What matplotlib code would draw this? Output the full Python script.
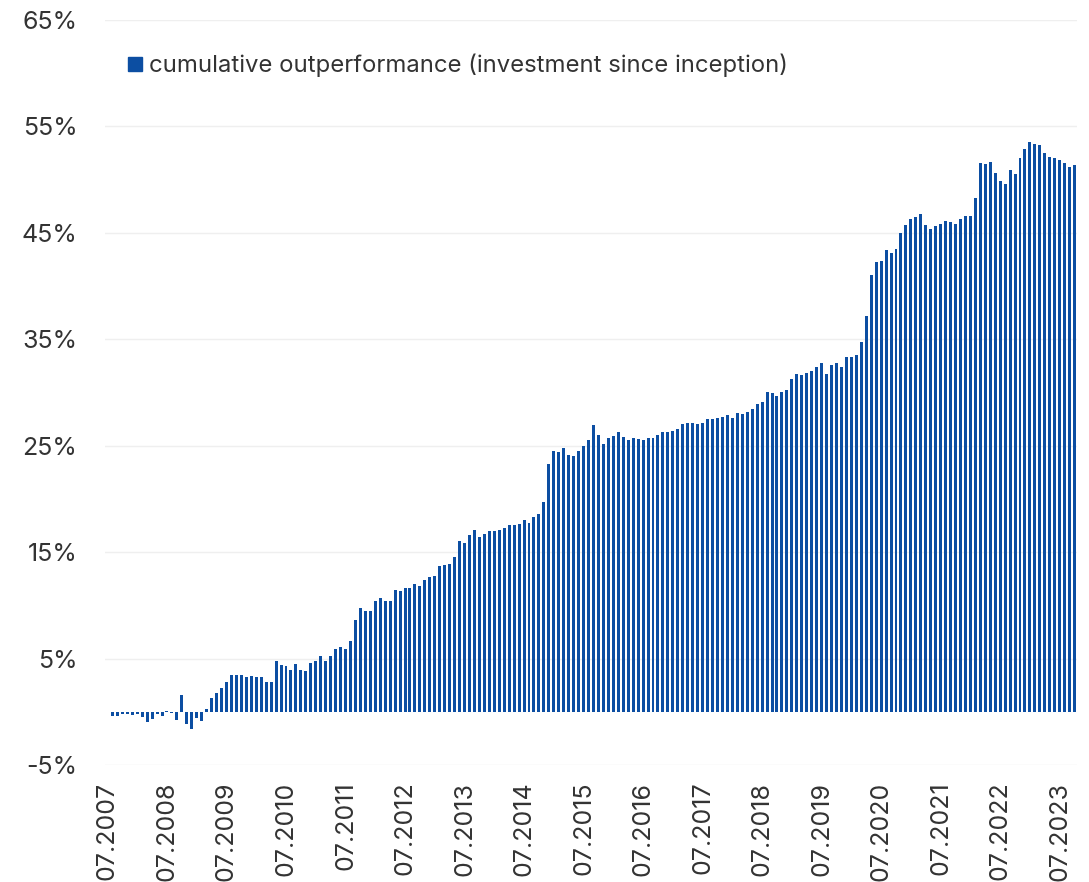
import pandas as pd
import matplotlib.pyplot as plt
from matplotlib.lines import Line2D

plt.rcParams['font.family'] = ['Inter', 'DejaVu Sans']

# monthly cumulative outperformance in %, 07.2007 - 10.2023
outperf = [
    0.00, -0.41, -0.41, -0.25, -0.25, -0.31, -0.25, -0.53, -0.97, -0.69, -0.25, -0.38,
    0.09, -0.13, -0.79, 1.54, -1.19, -1.64, -0.60, -0.88, 0.28, 1.32, 1.79, 2.26,
    2.77, 3.46, 3.46, 3.46, 3.24, 3.33, 3.30, 3.30, 2.80, 2.80, 4.78, 4.43,
    4.28, 3.96, 4.47, 3.96, 3.87, 4.56, 4.75, 5.22, 4.78, 5.28, 5.88, 6.07,
    5.94, 6.64, 8.58, 9.75, 9.43, 9.47, 10.38, 10.72, 10.38, 10.41, 11.42, 11.32,
    11.64, 11.64, 12.04, 11.85, 12.39, 12.64, 12.74, 13.69, 13.78, 13.84, 14.56, 16.03,
    15.81, 16.59, 17.06, 16.38, 16.72, 17.00, 16.97, 17.09, 17.25, 17.53, 17.53, 17.63,
    18.03, 17.75, 18.28, 18.56, 19.75, 23.32, 24.48, 24.39, 24.80, 24.14, 24.06, 24.48,
    24.97, 25.57, 26.98, 26.01, 25.19, 25.72, 25.91, 26.29, 25.82, 25.53, 25.72, 25.63,
    25.57, 25.69, 25.72, 25.97, 26.29, 26.29, 26.42, 26.60, 27.08, 27.14, 27.14, 27.08,
    27.10, 27.50, 27.54, 27.63, 27.70, 27.89, 27.61, 28.11, 27.96, 28.14, 28.49, 28.96,
    29.09, 30.00, 29.94, 29.69, 30.00, 30.28, 31.26, 31.70, 31.67, 31.82, 32.01, 32.39,
    32.74, 31.73, 32.58, 32.80, 32.39, 33.29, 33.30, 33.48, 34.73, 37.22, 41.00, 42.22,
    42.38, 43.41, 43.09, 43.44, 45.03, 45.78, 46.28, 46.50, 46.75, 45.75, 45.38, 45.69,
    45.84, 46.09, 46.03, 45.84, 46.34, 46.59, 46.56, 48.28, 51.53, 51.44, 51.69, 50.63,
    49.91, 49.59, 50.88, 50.50, 52.06, 52.91, 53.50, 53.34, 53.28, 52.53, 52.09, 52.03,
    51.81, 51.53, 51.19, 51.41,
]
months = pd.date_range('2007-07-01', periods=len(outperf), freq='MS')
y_ticks = [-5, 5, 15, 25, 35, 45, 55, 65]
legend_label = 'cumulative outperformance (investment since inception)'

bar_color = '#0c4ea2'
text_color = '#333333'

fig = plt.figure(figsize=(10.89, 8.82), dpi=100)
ax = fig.add_axes([0.0964, 0.1327, 0.8926, 0.8446])

x = list(range(len(outperf)))
ax.bar(x, outperf, width=0.6, color=bar_color, zorder=3)

# yearly ticks in July
tick_pos = [i for i, m in enumerate(months) if m.month == 7]
ax.set_xticks(tick_pos)
ax.set_xticklabels([months[i].strftime('%m.%Y') for i in tick_pos], rotation=90)
ax.set_xlim(-0.5, len(outperf) - 0.5)

ax.set_ylim(-5, 65)
ax.set_yticks(y_ticks)
ax.set_yticklabels([f'{t}%' for t in y_ticks])
ax.grid(axis='y', color='#efefef', linewidth=1.0, zorder=0)

ax.tick_params(axis='both', length=0, labelsize=18, colors=text_color)
ax.tick_params(axis='y', pad=20)
ax.tick_params(axis='x', pad=12)
for s in ax.spines.values():
    s.set_visible(False)

handle = Line2D([], [], marker='s', linestyle='none', markersize=10,
                color=bar_color)
ax.legend([handle], [legend_label], loc='upper left',
          bbox_to_anchor=(0.002, 0.9835), frameon=False, fontsize=17.2,
          handlelength=0.55, handletextpad=0.3, labelcolor=text_color)

plt.savefig('out.png', dpi=100)
